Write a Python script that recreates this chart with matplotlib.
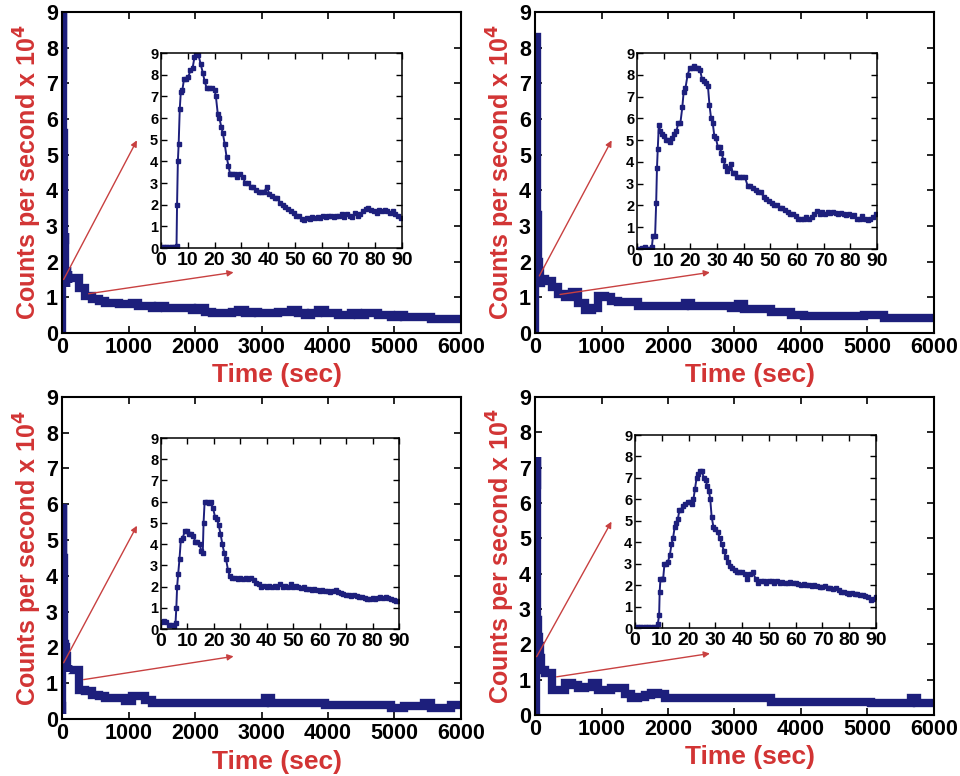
import numpy as np
import matplotlib
matplotlib.use("Agg")
import matplotlib.pyplot as plt

plt.rcParams['font.family'] = ['Liberation Sans', 'DejaVu Sans']
plt.rcParams['font.weight'] = 'bold'

BLUE = '#1d1f7c'
RED = '#d23434'
ARROW = '#c84040'

# ---- first 90 s of each run (inset data) ----
ins_t1 = [0, 1, 2, 3, 4, 5, 5.8, 6.0, 6.3, 6.6, 7.0, 7.4, 8, 8.6, 9.4, 10.2, 11, 11.8, 12.5, 13.2,
          14, 14.8, 15.6, 16.3, 17, 18, 19, 20, 20.5, 21.2, 21.8, 22.5, 23.1, 23.8, 24.5, 25.2, 25.8,
          26.5, 27.5, 28.5, 29.5, 30.5, 31.5, 32.5, 33.5, 34.5, 35.5, 36.5, 37.5, 38.5, 39.5, 40.5,
          41.5, 42.5, 43.5, 44.5, 45.5, 46.5, 47.5, 48.5, 49.5, 50.5, 51.5, 52.5, 53.5, 54.5, 55.5,
          56.5, 57.5, 58.5, 59.5, 60.5, 61.5, 62.5, 63.5, 64.5, 65.5, 66.5, 67.5, 68.5, 69.5, 70.5,
          71.5, 72.5, 73.5, 74.5, 75.5, 76.5, 77.5, 78.5, 79.5, 80.5, 81.5, 82.5, 83.5, 84.5, 85.5,
          86.5, 87.5, 88.5, 89.5]
ins_v1 = [0.05, 0.05, 0.05, 0.05, 0.05, 0.05, 0.1, 2.0, 4.0, 4.8, 6.4, 7.2, 7.3, 7.8, 7.8, 7.9, 8.2,
          8.3, 8.8, 9.0, 8.9, 8.5, 8.1, 7.7, 7.4, 7.4, 7.4, 7.3, 7.0, 6.2, 6.0, 5.6, 5.3, 4.8, 4.2,
          3.8, 3.4, 3.4, 3.4, 3.3, 3.4, 3.3, 3.0, 3.0, 2.8, 2.8, 2.7, 2.6, 2.6, 2.6, 2.8, 2.5, 2.4,
          2.3, 2.3, 2.1, 2.0, 1.9, 1.8, 1.7, 1.6, 1.5, 1.5, 1.35, 1.3, 1.4, 1.35, 1.45, 1.4, 1.45,
          1.4, 1.5, 1.45, 1.5, 1.5, 1.45, 1.5, 1.5, 1.55, 1.45, 1.55, 1.5, 1.45, 1.6, 1.5, 1.55, 1.7,
          1.8, 1.85, 1.75, 1.7, 1.6, 1.75, 1.7, 1.75, 1.7, 1.6, 1.7, 1.55, 1.5, 1.4]

ins_t2 = [0, 1, 2, 3, 4, 5, 5.6, 6.0, 6.8, 7.2, 7.5, 7.8, 8.2, 8.8, 9.5, 10.3, 11.0, 11.8, 12.5,
          13.2, 14, 14.8, 15.5, 16.3, 17, 17.5, 18.2, 19, 19.8, 20.6, 21.4, 22.2, 23, 23.7, 24.4,
          25.2, 26, 26.6, 27.2, 27.8, 28.4, 29, 29.6, 30.3, 31, 31.7, 32.4, 33.1, 33.8, 34.5, 35.2,
          35.9, 36.6, 37.5, 38.5, 39.5, 40.5, 41.5, 42.5, 43.5, 44.5, 45.5, 46.5, 47.5, 48.5, 49.5,
          50.5, 51.5, 52.5, 53.5, 54.5, 55.5, 56.5, 57.5, 58.5, 59.5, 60.5, 61.5, 62.5, 63.5, 64.5,
          65.5, 66.5, 67.5, 68.5, 69.5, 70.5, 71.5, 72.5, 73.5, 74.5, 75.5, 76.5, 77.5, 78.5, 79.5,
          80.5, 81.5, 82.5, 83.5, 84.5, 85.5, 86.5, 87.5, 88.5, 89.5]
ins_v2 = [0.0, 0.0, 0.05, 0.1, 0.0, 0.0, 0.1, 0.6, 0.6, 2.1, 3.7, 4.6, 5.7, 5.4, 5.3, 5.2, 5.0, 5.0,
          4.9, 5.1, 5.3, 5.4, 5.8, 5.8, 6.5, 7.2, 7.4, 8.0, 8.3, 8.3, 8.4, 8.3, 8.3, 8.2, 7.8, 7.7,
          7.6, 7.5, 6.6, 6.0, 5.8, 5.2, 5.1, 4.7, 4.7, 4.4, 4.1, 3.8, 3.6, 3.7, 3.9, 3.5, 3.5, 3.3,
          3.3, 3.3, 3.3, 2.9, 2.9, 2.8, 2.7, 2.6, 2.6, 2.4, 2.3, 2.2, 2.1, 2.0, 2.0, 1.9, 1.9, 1.8,
          1.7, 1.6, 1.6, 1.5, 1.4, 1.4, 1.4, 1.45, 1.4, 1.45, 1.6, 1.75, 1.6, 1.7, 1.6, 1.7, 1.65,
          1.7, 1.65, 1.6, 1.65, 1.6, 1.55, 1.6, 1.5, 1.55, 1.4, 1.4, 1.5, 1.4, 1.35, 1.4, 1.45, 1.6]

ins_t3 = [0, 1, 2, 3, 4, 5, 5.5, 5.8, 6.1, 6.5, 7.0, 7.5, 8.2, 9, 9.8, 10.6, 11.4, 12.2, 13, 13.8,
          14.6, 15.2, 15.8, 16.1, 16.5, 17.3, 18.1, 18.9, 19.7, 20.4, 21.1, 21.8, 22.5, 23.2, 23.9,
          24.6, 25.3, 26, 27, 28, 29, 30, 31, 32, 33, 34, 35, 36, 37, 38, 39, 40, 41, 42, 43, 44,
          45, 46, 47, 48, 49, 50, 51, 52, 53, 54, 55, 56, 57, 58, 59, 60, 61, 62, 63, 64, 65, 66,
          67, 68, 69, 70, 71, 72, 73, 74, 75, 76, 77, 78, 79, 80, 81, 82, 83, 84, 85, 86, 87, 88,
          89, 90]
ins_v3 = [0.35, 0.4, 0.35, 0.2, 0.2, 0.15, 0.3, 1.0, 2.0, 2.6, 3.3, 4.2, 4.3, 4.6, 4.6, 4.5, 4.5,
          4.4, 4.1, 4.1, 4.0, 3.7, 3.6, 5.0, 6.0, 6.0, 5.95, 6.0, 5.7, 5.3, 5.2, 4.9, 4.5, 4.0, 3.6,
          3.3, 2.8, 2.5, 2.4, 2.4, 2.35, 2.4, 2.35, 2.4, 2.35, 2.4, 2.3, 2.15, 2.1, 2.0, 2.05, 2.0,
          2.05, 2.0, 2.05, 2.0, 2.1, 2.0, 2.05, 2.0, 2.1, 2.0, 2.05, 2.0, 1.95, 2.0, 1.9, 1.9, 1.85,
          1.9, 1.85, 1.8, 1.85, 1.8, 1.8, 1.75, 1.8, 1.85, 1.75, 1.7, 1.65, 1.6, 1.6, 1.55, 1.6,
          1.55, 1.5, 1.5, 1.45, 1.4, 1.4, 1.45, 1.4, 1.45, 1.5, 1.45, 1.5, 1.45, 1.4, 1.35, 1.3, 1.3]

ins_t4 = [0, 1, 2, 3, 4, 5, 6, 7, 8, 8.5, 9.0, 9.2, 9.5, 10.0, 10.5, 11.0, 11.7, 12.3, 13, 13.6,
          14.2, 14.8, 15.4, 16, 16.6, 17.3, 18, 18.8, 19.6, 20.4, 21.2, 21.8, 22.4, 23, 23.6, 24.3,
          25, 25.7, 26.4, 27, 27.6, 28.1, 28.6, 29.3, 30, 30.8, 31.6, 32.4, 33.2, 34, 34.8, 35.6,
          36.4, 37.2, 38, 39, 40, 41, 42, 43, 44, 45, 46, 47, 48, 49, 50, 51, 52, 53, 54, 55, 56,
          57, 58, 59, 60, 61, 62, 63, 64, 65, 66, 67, 68, 69, 70, 71, 72, 73, 74, 75, 76, 77, 78,
          79, 80, 81, 82, 83, 84, 85, 86, 87, 88, 89, 90]
ins_v4 = [0.05, 0.05, 0.05, 0.05, 0.05, 0.05, 0.05, 0.05, 0.05, 0.2, 0.6, 1.7, 2.3, 2.3, 2.3, 3.0,
          3.0, 3.1, 3.4, 3.9, 4.2, 4.7, 4.9, 5.1, 5.5, 5.5, 5.7, 5.8, 5.9, 5.9, 5.8, 6.0, 6.5, 7.0,
          7.2, 7.3, 7.3, 7.0, 6.9, 6.6, 6.4, 6.0, 5.2, 4.7, 4.6, 4.5, 4.2, 3.9, 3.6, 3.3, 3.1, 2.9,
          2.8, 2.7, 2.6, 2.6, 2.6, 2.5, 2.3, 2.5, 2.6, 2.3, 2.1, 2.2, 2.2, 2.1, 2.2, 2.2, 2.1, 2.2,
          2.1, 2.15, 2.1, 2.1, 2.15, 2.1, 2.1, 2.05, 2.0, 2.05, 2.0, 2.0, 1.95, 2.0, 1.95, 1.9, 1.9,
          1.95, 1.85, 1.85, 1.8, 1.85, 1.75, 1.7, 1.7, 1.65, 1.6, 1.65, 1.6, 1.6, 1.55, 1.55, 1.5,
          1.45, 1.3, 1.35, 1.45]

# ---- rest of each run, 100 s bins ----
tail_t = list(range(100, 6001, 100))
tail_v1 = [1.55, 1.55, 1.25, 1.05, 0.95, 0.9, 0.85, 0.85, 0.8, 0.8, 0.85, 0.75, 0.75, 0.7, 0.75,
           0.7, 0.7, 0.7, 0.7, 0.65, 0.7, 0.6, 0.55, 0.55, 0.55, 0.6, 0.65, 0.55, 0.6, 0.55, 0.55,
           0.55, 0.6, 0.6, 0.65, 0.55, 0.5, 0.55, 0.65, 0.55, 0.55, 0.5, 0.5, 0.55, 0.5, 0.55, 0.55,
           0.5, 0.5, 0.45, 0.5, 0.45, 0.45, 0.45, 0.45, 0.4, 0.4, 0.4, 0.4, 0.4]
tail_v2 = [1.5, 1.45, 1.3, 1.1, 1.0, 1.15, 0.85, 0.65, 0.7, 1.03, 1.0, 0.9, 0.87, 0.87, 0.87, 0.77,
           0.77, 0.77, 0.77, 0.77, 0.77, 0.77, 0.85, 0.75, 0.75, 0.75, 0.75, 0.75, 0.75, 0.7, 0.8,
           0.68, 0.68, 0.68, 0.68, 0.6, 0.6, 0.6, 0.5, 0.5, 0.47, 0.47, 0.47, 0.47, 0.47, 0.47, 0.47,
           0.47, 0.47, 0.5, 0.5, 0.5, 0.42, 0.42, 0.42, 0.42, 0.42, 0.42, 0.42, 0.42]
tail_v3 = [1.38, 1.38, 0.82, 0.77, 0.68, 0.63, 0.58, 0.58, 0.58, 0.5, 0.63, 0.63, 0.54, 0.45, 0.45,
           0.45, 0.45, 0.45, 0.45, 0.45, 0.45, 0.45, 0.45, 0.45, 0.45, 0.45, 0.45, 0.45, 0.45, 0.45,
           0.58, 0.45, 0.45, 0.45, 0.45, 0.45, 0.45, 0.45, 0.45, 0.4, 0.4, 0.4, 0.4, 0.4, 0.4, 0.4,
           0.4, 0.4, 0.4, 0.31, 0.31, 0.35, 0.35, 0.35, 0.45, 0.3, 0.3, 0.3, 0.4, 0.4]
tail_v4 = [1.27, 1.18, 0.7, 0.7, 0.9, 0.85, 0.75, 0.8, 0.9, 0.7, 0.7, 0.75, 0.77, 0.6, 0.47, 0.52,
           0.57, 0.63, 0.6, 0.47, 0.47, 0.47, 0.47, 0.47, 0.47, 0.47, 0.47, 0.47, 0.47, 0.47, 0.47,
           0.47, 0.47, 0.47, 0.47, 0.38, 0.38, 0.38, 0.38, 0.38, 0.36, 0.36, 0.36, 0.36, 0.36, 0.36,
           0.36, 0.36, 0.36, 0.36, 0.33, 0.33, 0.33, 0.33, 0.33, 0.33, 0.47, 0.33, 0.33, 0.33]

runs = [
    (ins_t1, ins_v1, tail_v1),
    (ins_t2, ins_v2, tail_v2),
    (ins_t3, ins_v3, tail_v3),
    (ins_t4, ins_v4, tail_v4),
]

# axes boxes in figure fractions
main_boxes = [
    [0.0646, 0.5709, 0.4156, 0.4137],
    [0.5573, 0.5709, 0.4156, 0.4137],
    [0.0646, 0.0735, 0.4156, 0.4150],
    [0.5573, 0.0786, 0.4156, 0.4100],
]
inset_boxes = [
    [0.1677, 0.6804, 0.2510, 0.2513],
    [0.6635, 0.6791, 0.2500, 0.2526],
    [0.1677, 0.1894, 0.2479, 0.2461],
    [0.6615, 0.1907, 0.2510, 0.2487],
]
# arrow tails/heads in main-axes data coordinates
arrows = [
    [((25, 1.5), (1126, 5.4)), ((400, 1.1), (2580, 1.7))],
    [((65, 1.6), (1152, 5.4)), ((376, 1.08), (2630, 1.7))],
    [((25, 1.57), (1127, 5.4)), ((325, 1.1), (2580, 1.75))],
    [((25, 1.65), (1150, 5.47)), ((325, 1.08), (2630, 1.74))],
]

fig = plt.figure(figsize=(9.6, 7.76), dpi=100)

for i, (it, iv, tv) in enumerate(runs):
    ax = fig.add_axes(main_boxes[i])
    t_all = list(it) + tail_t
    v_all = list(iv) + tv
    ax.plot(t_all, v_all, color=BLUE, lw=6, drawstyle='steps-mid', solid_joinstyle='miter')
    ax.set_xlim(0, 6000)
    ax.set_ylim(0, 9)
    ax.set_xticks(range(0, 6001, 1000))
    ax.set_yticks(range(0, 10))
    ax.tick_params(direction='in', top=True, right=True, length=5, width=1.2,
                   labelsize=15.5, pad=3)
    for lab in ax.get_xticklabels() + ax.get_yticklabels():
        lab.set_fontweight('bold')
    for s in ax.spines.values():
        s.set_linewidth(1.5)
    ax.set_xlabel('Time (sec)', color=RED, fontsize=19, fontweight='bold')
    ax.xaxis.set_label_coords(0.54, -0.095)
    ax.set_ylabel('Counts per second x 10$^{\\mathbf{4}}$', color=RED, fontsize=18,
                  fontweight='bold', labelpad=1)

    for (x0, y0), (x1, y1) in arrows[i]:
        ax.annotate('', xy=(x1, y1), xytext=(x0, y0),
                    arrowprops=dict(arrowstyle='-|>', color=ARROW, lw=1.0,
                                    mutation_scale=9, shrinkA=0, shrinkB=0))

    inn = fig.add_axes(inset_boxes[i])
    inn.plot(it, iv, color=BLUE, lw=1.4, marker='s', ms=3.2)
    inn.set_xlim(0, 90)
    inn.set_ylim(0, 9)
    inn.set_xticks(range(0, 91, 10))
    inn.set_yticks(range(0, 10))
    inn.tick_params(direction='in', top=True, right=True, length=4, width=1.0)
    inn.tick_params(axis='x', labelsize=14, pad=3)
    inn.tick_params(axis='y', labelsize=10.5, pad=2)
    for lab in inn.get_xticklabels() + inn.get_yticklabels():
        lab.set_fontweight('bold')
    for s in inn.spines.values():
        s.set_linewidth(1.1)

fig.savefig('out.png', dpi=100)
